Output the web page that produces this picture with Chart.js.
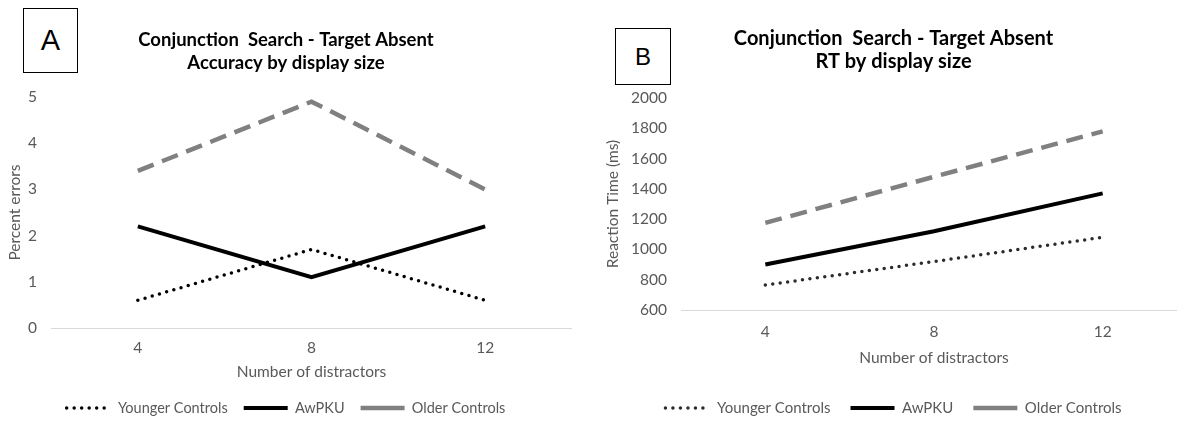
<!DOCTYPE html>
<html>
<head>
<meta charset="utf-8">
<script src="https://cdn.jsdelivr.net/npm/chart.js@4.4.1/dist/chart.umd.min.js"></script>
<style>
  body { margin: 0; width: 1177px; height: 426px; overflow: hidden; background: #fff; position: relative; }
  canvas { position: absolute; top: 0; }
  #chartA { left: 0; }
  #chartB { left: 600px; }
  .tag { position: absolute; border: 1px solid #000; box-sizing: border-box; background: #fff;
         font-family: "Liberation Sans", Arial, sans-serif; color: #000;
         display: flex; align-items: center; justify-content: center; z-index: 2; }
</style>
</head>
<body>
<canvas id="chartA" width="572" height="426"></canvas>
<canvas id="chartB" width="587" height="426"></canvas>
<div class="tag" style="left:23px;top:8px;width:55px;height:65px;font-size:29px;">A</div>
<div class="tag" style="left:615px;top:28px;width:56px;height:57px;font-size:24px;">B</div>
<script>
// x categories (number of distractors)
const distractors = ["4", "8", "12"];

// panel A: percent errors
const accYounger = [0.6, 1.7, 0.6];
const accAwPKU = [2.2, 1.1, 2.2];
const accOlder = [3.4, 4.9, 3.0];

// panel B: reaction time (ms)
const rtYounger = [765, 920, 1080];
const rtAwPKU = [900, 1120, 1370];
const rtOlder = [1175, 1480, 1780];

const seriesNames = ["Younger Controls", "AwPKU", "Older Controls"];

const grayText = "#595959";
const axisLine = "#d9d9d9";
const FONT = "Lato";

function datasets(young, aw, old, dotColor) {
  return [
    { label: seriesNames[0], data: young, borderColor: dotColor, borderWidth: 3.5,
      borderDash: [0, 7.5], borderCapStyle: "round", legendDash: [0, 7.5] },
    { label: seriesNames[1], data: aw, borderColor: "#000", borderWidth: 4, legendDash: [] },
    { label: seriesNames[2], data: old, borderColor: "#808080", borderWidth: 4.5,
      borderDash: [17, 9], legendDash: [] }
  ];
}

function legendLabels(chart) {
  return chart.data.datasets.map((ds, i) => ({
    text: ds.label,
    strokeStyle: ds.borderColor,
    fillStyle: ds.borderColor,
    lineWidth: ds.borderWidth,
    lineDash: ds.legendDash,
    lineCap: ds.borderCapStyle || "butt",
    pointStyle: "line",
    fontColor: grayText,
    hidden: false,
    datasetIndex: i
  }));
}

function makeChart(id, cfg) {
  const tickFont = { family: FONT, size: 15.5 };
  return new Chart(document.getElementById(id), {
    type: "line",
    data: { labels: distractors, datasets: cfg.sets },
    options: {
      responsive: false,
      animation: false,
      elements: { point: { radius: 0 }, line: { tension: 0 } },
      layout: { padding: { top: 0, bottom: cfg.bottomPad, left: 0, right: 0 } },
      plugins: {
        tooltip: { enabled: false },
        title: {
          display: true,
          text: cfg.title,
          color: "#000",
          font: { family: FONT, size: cfg.titleSize, weight: "bold", lineHeight: "23px" },
          padding: cfg.titlePad
        },
        legend: {
          position: "bottom",
          labels: {
            usePointStyle: true,
            pointStyleWidth: 44,
            padding: cfg.legendPad,
            color: grayText,
            font: { family: FONT, size: cfg.legendSize },
            generateLabels: legendLabels
          }
        }
      },
      scales: {
        x: {
          offset: true,
          grid: { display: false, drawTicks: false },
          border: { display: true, color: axisLine, width: 1 },
          ticks: { color: grayText, font: tickFont, padding: cfg.xTickPad },
          title: { display: true, text: "Number of distractors", color: grayText,
                   font: tickFont, padding: { top: 0, bottom: cfg.xTitlePad } },
          afterFit: s => { s.height = cfg.xHeight; }
        },
        y: {
          min: cfg.yMin,
          max: cfg.yMax,
          grid: { display: false, drawTicks: false },
          border: { display: false },
          ticks: { stepSize: cfg.yStep, color: grayText, font: tickFont, padding: cfg.yTickPad,
                   callback: v => String(v) },
          title: { display: true, text: cfg.yTitle, color: grayText, font: tickFont,
                   padding: { top: cfg.yTitlePad, bottom: 0 } },
          afterFit: s => { s.width = cfg.yWidth; }
        }
      }
    }
  });
}

makeChart("chartA", {
  sets: datasets(accYounger, accAwPKU, accOlder, "#000"),
  title: ["Conjunction  Search - Target Absent", "Accuracy by display size"],
  titleSize: 18.5,
  titlePad: { top: 28.5, bottom: 22.5 },
  yMin: 0, yMax: 5, yStep: 1,
  yTitle: "Percent errors",
  yWidth: 51, yTickPad: 14, yTitlePad: 5.7,
  xHeight: 56.75, xTickPad: 10.7, xTitlePad: 3.45,
  legendSize: 14.5, legendPad: 16, bottomPad: 0.75
});

makeChart("chartB", {
  sets: datasets(rtYounger, rtAwPKU, rtOlder, "#2b2b2b"),
  title: ["Conjunction  Search - Target Absent", "RT by display size"],
  titleSize: 20,
  titlePad: { top: 27, bottom: 25 },
  yMin: 600, yMax: 2000, yStep: 200,
  yTitle: "Reaction Time (ms)",
  yWidth: 81, yTickPad: 14, yTitlePad: 3.7,
  xHeight: 70.5, xTickPad: 12.7, xTitlePad: 13.2,
  legendSize: 15, legendPad: 20, bottomPad: 0.5
});
</script>
</body>
</html>
